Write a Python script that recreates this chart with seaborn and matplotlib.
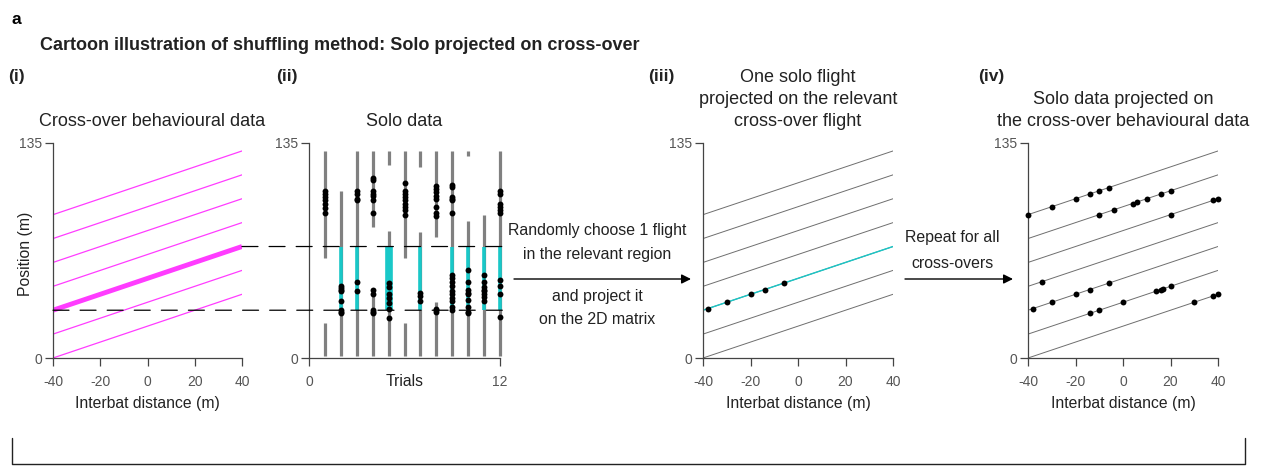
import numpy as np
import pandas as pd
import matplotlib.pyplot as plt
import seaborn as sns
from matplotlib.lines import Line2D
from matplotlib.patches import ConnectionPatch

# === DATA ===
# cross-over flights: position at interbat distance -40 and +40
line_start = [0, 15, 30, 45, 60, 75, 90]
line_end = [40, 55, 70, 85, 100, 115, 130]
x_range = [-40, 40]
selected_line = 30          # the highlighted cross-over flight (start position)
region = [30, 70]           # relevant region for solo flights

# solo data: trials 1..12
trials = list(range(1, 13))
solo_segments = [
    [(1, 22), (63, 130)],
    [(1, 105)],
    [(1, 130)],
    [(1, 44), (82, 130)],
    [(1, 80), (121, 130)],
    [(1, 22), (63, 130)],
    [(1, 79), (120, 130)],
    [(1, 35), (76, 130)],
    [(1, 130)],
    [(1, 86), (127, 130)],
    [(1, 90)],
    [(1, 130)],
]
in_region = [False, True, True, False, True, False, True, False, True, True, True, True]
wide_trial = 5
solo_dots = [
    [105, 103, 101, 99, 97, 94, 91],
    [45, 44, 43, 42, 35.5, 30, 29, 28],
    [105, 103, 100, 99, 48, 42],
    [113, 112, 105, 103, 102, 99, 91, 43, 40, 30, 29, 28],
    [47, 44.5, 40, 37.5, 34.5, 30.5, 25],
    [110, 105, 103, 101, 99, 97, 95, 93, 90],
    [41, 39, 36],
    [108, 106, 104, 102, 100, 95, 91, 89, 31, 30, 29],
    [108.5, 107.5, 101, 100, 99, 91, 52, 50, 48, 45, 42, 40, 37.5, 35.5, 32, 30],
    [55, 48, 43, 41, 40, 36.5, 32, 29, 28],
    [52, 48, 44.5, 43, 42, 40, 38.5, 35.5],
    [105, 103, 97, 95, 93, 91, 49, 45, 40.5, 26],
]

# one solo flight projected (panel iii)
one_flight_x = [-38, -30, -20, -14, -6]

# all solo flights projected (panel iv): interbat distance and which cross-over line
proj_x = [-40, -30, -20, -14, -10, -6,
          -10, -4, 4, 6, 10, 16, 20,
          20, 38, 40,
          -34,
          -38, -30, -20, -14, -6,
          -14, -10, 0, 14, 16, 17, 20,
          30, 38, 40]
proj_line = [90] * 6 + [75] * 7 + [60] * 3 + [45] + [30] * 5 + [15] * 7 + [0] * 3

# === STYLE ===
sns.set_style("ticks")
plt.rcParams['font.family'] = ['Liberation Sans', 'DejaVu Sans']
plt.rcParams['lines.scale_dashes'] = False
plt.rcParams['axes.unicode_minus'] = False

MAGENTA = "#ff3cff"
CYAN = "#19c8c8"
GRAY = "#808080"
AXC = "#444444"
TXT = "#222222"
FS_TITLE = 13
FS_LABEL = 11.3
FS_TICK = 10

W, H = 1269, 467
fig = plt.figure(figsize=(W / 100, H / 100), dpi=100)


def fx(x):
    return x / W


def fy(y):
    return 1 - y / H


def add_ax(left_px, right_px):
    ax = fig.add_axes([fx(left_px), fy(358), (right_px - left_px) / W, 215 / H])
    return ax


def style_ax(ax, xlim, xticks):
    ax.set_xlim(*xlim)
    ax.set_ylim(0, 135)
    ax.set_xticks(xticks)
    ax.set_yticks([0, 135])
    sns.despine(ax=ax)
    for s in ['left', 'bottom']:
        ax.spines[s].set_color(AXC)
        ax.spines[s].set_linewidth(0.9)
    ax.tick_params(direction='out', length=5.5, width=0.9, color=AXC,
                   labelcolor="#555555", labelsize=FS_TICK)
    ax.tick_params(axis='x', pad=6.5)
    ax.tick_params(axis='y', pad=2)
    ax.set_xlabel("")
    ax.set_ylabel("")


def lines_df():
    rows = []
    for i, (a, b) in enumerate(zip(line_start, line_end)):
        rows.append({"flight": i, "x": x_range[0], "pos": a, "start": a})
        rows.append({"flight": i, "x": x_range[1], "pos": b, "start": a})
    return pd.DataFrame(rows)


df_lines = lines_df()

# === (i) cross-over behavioural data ===
ax1 = add_ax(53, 242)
sns.lineplot(data=df_lines, x="x", y="pos", units="flight", estimator=None,
             color=MAGENTA, lw=0.9, ax=ax1)
sel = df_lines[df_lines["start"] == selected_line]
sns.lineplot(data=sel, x="x", y="pos", estimator=None, color=MAGENTA,
             lw=3.5, ax=ax1, solid_capstyle='butt')
style_ax(ax1, x_range, [-40, -20, 0, 20, 40])

# === (ii) solo data ===
ax2 = add_ax(309, 500)
for t, segs, cy in zip(trials, solo_segments, in_region):
    for lo, hi in segs:
        ax2.vlines(t, lo, hi, color=GRAY, lw=2.3, zorder=2, clip_on=False)
    if cy:
        ax2.vlines(t, region[0], region[1], color=CYAN,
                   lw=5.5 if t == wide_trial else 2.6, zorder=3, clip_on=False)
dots = pd.DataFrame([{"trial": t, "pos": p} for t, d in zip(trials, solo_dots) for p in d])
sns.scatterplot(data=dots, x="trial", y="pos", color="black", s=18,
                linewidth=0, ax=ax2, zorder=4, clip_on=False)
style_ax(ax2, (0, 12), [0, 12])
ax2.text(6, -0.11, "Trials", transform=ax2.get_xaxis_transform(),
         ha='center', va='center', fontsize=FS_LABEL, color=TXT)

# dashed lines linking (i) and (ii)
for xa, ya in [(x_range[0], region[0]), (x_range[1], region[1])]:
    con = ConnectionPatch(xyA=(xa, ya), coordsA=ax1.transData,
                          xyB=(12.2, ya), coordsB=ax2.transData,
                          color="black", lw=0.9, linestyle=(0, (11.5, 8)))
    fig.add_artist(con)

# === (iii) one solo flight projected ===
ax3 = add_ax(703, 893)
sns.lineplot(data=df_lines, x="x", y="pos", units="flight", estimator=None,
             color="#6e6e6e", lw=0.7, ax=ax3)
sns.lineplot(data=sel, x="x", y="pos", estimator=None, color=CYAN, lw=1.0, ax=ax3)
one_y = np.interp(one_flight_x, x_range, [selected_line, line_end[line_start.index(selected_line)]])
sns.scatterplot(x=one_flight_x, y=one_y, color="black", s=18, linewidth=0,
                ax=ax3, zorder=4, clip_on=False)
style_ax(ax3, x_range, [-40, -20, 0, 20, 40])

# === (iv) solo data projected on cross-over data ===
ax4 = add_ax(1028, 1218)
sns.lineplot(data=df_lines, x="x", y="pos", units="flight", estimator=None,
             color="#6e6e6e", lw=0.7, ax=ax4)
proj_y = [np.interp(x, x_range, [s, line_end[line_start.index(s)]])
          for x, s in zip(proj_x, proj_line)]
sns.scatterplot(x=proj_x, y=proj_y, color="black", s=18, linewidth=0,
                ax=ax4, zorder=4, clip_on=False)
style_ax(ax4, x_range, [-40, -20, 0, 20, 40])

# axis labels
for ax in [ax1, ax3, ax4]:
    ax.set_xlabel("Interbat distance (m)", fontsize=FS_LABEL, color=TXT, labelpad=5)
fig.text(fx(26), fy(254), "Position (m)", rotation=90, ha='center', va='center',
         fontsize=FS_LABEL, color=TXT)

# === TEXT ===
fig.text(fx(12), fy(19), "a", fontsize=12.5, fontweight='bold', ha='left', va='center', color="black")
fig.text(fx(40), fy(45), "Cartoon illustration of shuffling method: Solo projected on cross-over",
         fontsize=13, fontweight='bold', ha='left', va='center', color=TXT)
for lbl, x in [("(i)", 8), ("(ii)", 276), ("(iii)", 648), ("(iv)", 978)]:
    fig.text(fx(x), fy(77), lbl, fontsize=12.5, fontweight='bold', ha='left', va='center', color=TXT)

fig.text(fx(152), fy(121), "Cross-over behavioural data", fontsize=FS_TITLE, ha='center', va='center', color=TXT)
fig.text(fx(404), fy(121), "Solo data", fontsize=FS_TITLE, ha='center', va='center', color=TXT)
for i, s in enumerate(["One solo flight", "projected on the relevant", "cross-over flight"]):
    fig.text(fx(798), fy(77 + 22 * i), s, fontsize=FS_TITLE, ha='center', va='center', color=TXT)
for i, s in enumerate(["Solo data projected on", "the cross-over behavioural data"]):
    fig.text(fx(1123), fy(99 + 22 * i), s, fontsize=FS_TITLE, ha='center', va='center', color=TXT)

# arrows and notes
fig.add_artist(plt.Annotation("", xy=(fx(691), fy(279)), xytext=(fx(514), fy(279)),
                              xycoords='figure fraction',
                              arrowprops=dict(arrowstyle='-|>', color='black', lw=1.0,
                                              mutation_scale=14, shrinkA=0, shrinkB=0)))
for s, y in [("Randomly choose 1 flight", 231), ("in the relevant region", 254),
             ("and project it", 297), ("on the 2D matrix", 319)]:
    fig.text(fx(597), fy(y), s, fontsize=11.4, ha='center', va='center', color=TXT)

fig.add_artist(plt.Annotation("", xy=(fx(1013), fy(279)), xytext=(fx(905), fy(279)),
                              xycoords='figure fraction',
                              arrowprops=dict(arrowstyle='-|>', color='black', lw=1.0,
                                              mutation_scale=14, shrinkA=0, shrinkB=0)))
for s, y in [("Repeat for all", 238), ("cross-overs", 263)]:
    fig.text(fx(952), fy(y), s, fontsize=11.4, ha='center', va='center', color=TXT)

# bracket at the bottom
fig.add_artist(Line2D([fx(12), fx(12), fx(1245), fx(1245)],
                      [fy(438), fy(464), fy(464), fy(438)],
                      color="#222222", lw=1.0))

fig.savefig("out.png", dpi=100)
